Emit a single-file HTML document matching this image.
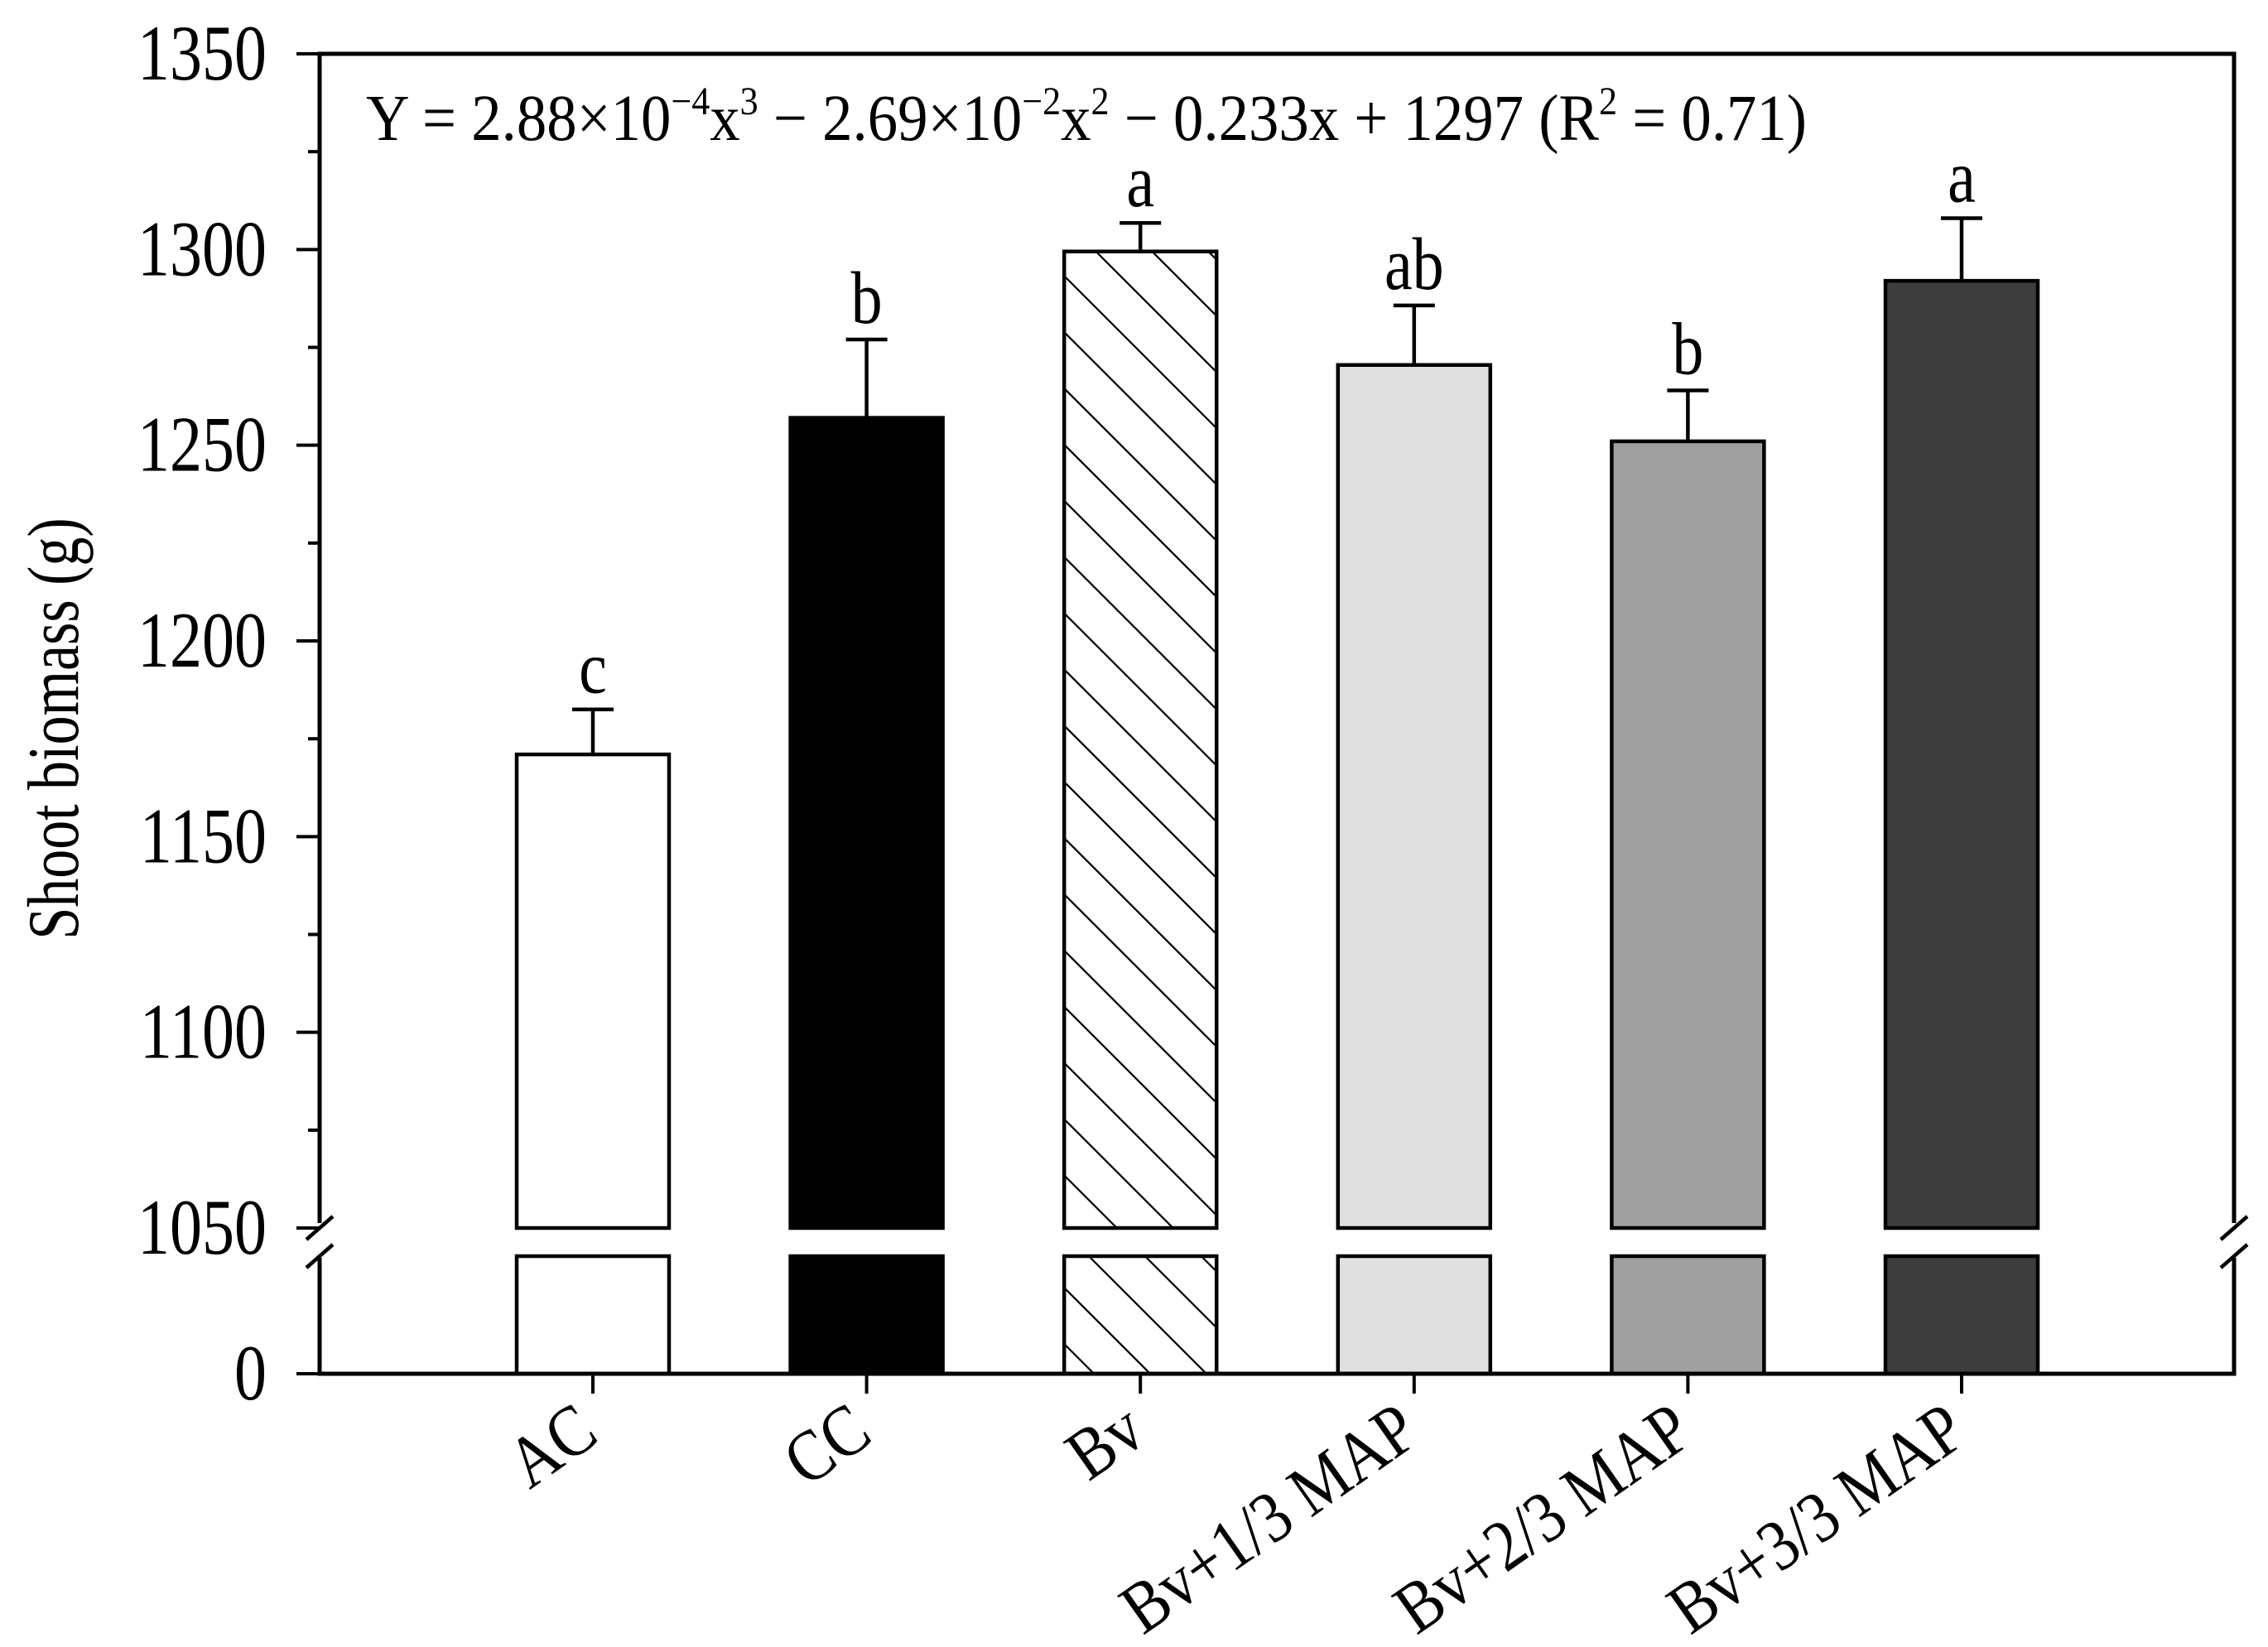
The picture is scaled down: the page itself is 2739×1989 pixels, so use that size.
<!DOCTYPE html>
<html><head><meta charset="utf-8"><style>
html,body{margin:0;padding:0;background:#fff;}
svg{display:block;}
text{font-family:"Liberation Serif","Times New Roman",serif;fill:#000;}
</style></head><body>
<svg id="chart" width="2739" height="1989" viewBox="0 0 2739 1989" xmlns="http://www.w3.org/2000/svg">
<defs>
<pattern id="hatch" patternUnits="userSpaceOnUse" width="48" height="48" patternTransform="rotate(-45)">
<rect width="48" height="48" fill="#fff"/>
<line x1="0" y1="0" x2="0" y2="48" stroke="#000" stroke-width="4.5"/>
</pattern>
</defs>
<g id="plot"></g>
</svg>
<script>
const categories = ["AC","CC","Bv","Bv+1/3 MAP","Bv+2/3 MAP","Bv+3/3 MAP"];
const values = [1171, 1257, 1299.5, 1270.5, 1251, 1292];
const errors = [11.5, 20, 7.3, 15.2, 13, 16];
const letters = ["c","b","a","ab","b","a"];
const fills = ["#ffffff","#000000","url(#hatch)","#e0e0e0","#a0a0a0","#3d3d3d"];
const yTicks = [1050,1100,1150,1200,1250,1300,1350];
const yMinorTicks = [1075,1125,1175,1225,1275,1325];

const NS="http://www.w3.org/2000/svg";
const g=document.getElementById('plot');
const L=386, R=2698, T=65, B=1659;
const yBreakTop=1483, yLowTop=1517;
const yMin=1050, yMax=1350;
function y(v){ return yBreakTop-(v-yMin)/(yMax-yMin)*(yBreakTop-T); }
const x0=716, step=330.6, bw=184;
function x(i){ return x0+i*step; }
function el(tag,attrs,parent){const e=document.createElementNS(NS,tag);for(const k in attrs)e.setAttribute(k,attrs[k]);(parent||g).appendChild(e);return e;}

// bars
categories.forEach((c,i)=>{
  const cx=x(i), top=y(values[i]);
  const upper=el('rect',{x:cx-bw/2,y:top,width:bw,height:yBreakTop-top,fill:fills[i],stroke:'#000','stroke-width':4.5});
  
  
  const lower=el('rect',{x:cx-bw/2,y:yLowTop,width:bw,height:B-yLowTop,fill:fills[i],stroke:'#000','stroke-width':4.5});
  
  
  const et=y(values[i]+errors[i]);
  const eb=el('path',{d:`M${cx},${top} V${et} M${cx-25},${et} H${cx+25}`,stroke:'#000','stroke-width':4.5,fill:'none'});
  
  
  const lt=el('text',{x:0,y:0,'font-size':76,'text-anchor':'middle',transform:`translate(${cx},${et-20}) scale(1,1.18)`});
  lt.textContent=letters[i];
  
  
  const tk=el('line',{x1:cx,y1:B,x2:cx,y2:B+24,stroke:'#000','stroke-width':4});
  
  
  const xl=el('text',{x:0,y:0,'font-size':76,'text-anchor':'end',transform:`translate(${cx+10},${B+80}) rotate(-35) scale(1,1.15)`});
  xl.textContent=c;
  
  
});

// axes
const ax=el('path',{d:`M${L},${yBreakTop-6} V${T} H${R} V${yBreakTop-6} M${L},${yLowTop+2} V${B} H${R} V${yLowTop+2}`,stroke:'#000','stroke-width':5,fill:'none'});


[L,R].forEach(bx=>{
  const br=el('path',{d:`M${bx-16},${yBreakTop+14} L${bx+16},${yBreakTop-14} M${bx-16},${yLowTop+14} L${bx+16},${yLowTop-14}`,stroke:'#000','stroke-width':4.5});
  
  
});
yTicks.forEach(v=>{
  const t=el('line',{x1:L-28,y1:y(v),x2:L,y2:y(v),stroke:'#000','stroke-width':4});
  
  
  const tl=el('text',{x:0,y:0,'font-size':78,'text-anchor':'end',transform:`translate(322,${y(v)+31}) scale(1,1.22)`});
  tl.textContent=v;
  
  
});
yMinorTicks.forEach(v=>{
  const t=el('line',{x1:L-14,y1:y(v),x2:L,y2:y(v),stroke:'#000','stroke-width':4});
  
  
});
const z=el('line',{x1:L-28,y1:B,x2:L,y2:B,stroke:'#000','stroke-width':4});


const zl=el('text',{x:0,y:0,'font-size':78,'text-anchor':'end',transform:`translate(322,${B+31}) scale(1,1.22)`});
zl.textContent='0';



// title
const yt=el('text',{x:0,y:0,'font-size':70,'text-anchor':'middle',transform:'translate(94,880) rotate(-90) scale(1,1.25)'});
yt.textContent='Shoot biomass (g)';



// equation
const eq=el('text',{x:0,y:0,'font-size':66,textLength:1740,lengthAdjust:'spacingAndGlyphs',transform:'translate(442,169) scale(1,1.2)'});
eq.innerHTML='Y = 2.88×10<tspan dy="-26" font-size="40">−4</tspan><tspan dy="26">x</tspan><tspan dy="-26" font-size="40">3</tspan><tspan dy="26"> − 2.69×10</tspan><tspan dy="-26" font-size="40">−2</tspan><tspan dy="26">x</tspan><tspan dy="-26" font-size="40">2</tspan><tspan dy="26"> − 0.233x + 1297 (R</tspan><tspan dy="-26" font-size="40">2</tspan><tspan dy="26"> = 0.71)</tspan>';


</script>
</body></html>
